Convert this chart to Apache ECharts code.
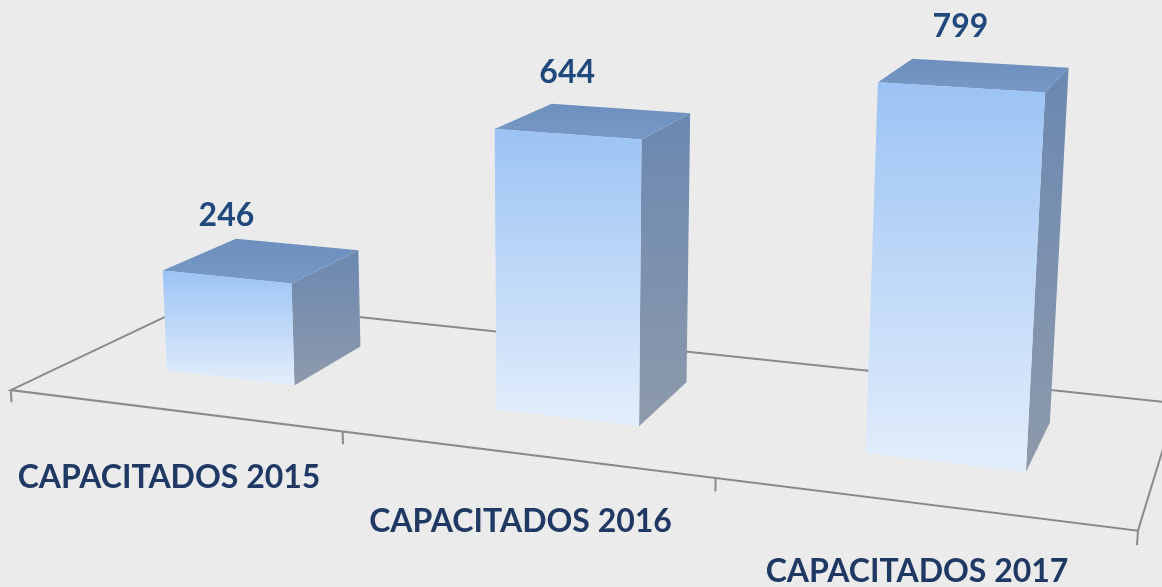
<!DOCTYPE html>
<html>
<head>
<meta charset="utf-8">
<script src="https://cdn.jsdelivr.net/npm/echarts@6/dist/echarts.min.js"></script>
<style>
html, body { margin: 0; padding: 0; background: #ebebeb; }
#main { width: 1162px; height: 587px; }
</style>
</head>
<body>
<div id="main"></div>
<script>
var categories = ['CAPACITADOS 2015', 'CAPACITADOS 2016', 'CAPACITADOS 2017'];
var values = [246, 644, 799];
var valueMax = 1000;

// perspective: screen point of the first bar's front-bottom centre + vanishing points
var cam = {
    x0: 230, y0: 378,
    vh: [-5674, -319],   // along the categories
    vv: [560, 9700],     // verticals
    vd: [1380, -260],    // depth
    kd: 0.00064
};
var gx = 1 / (cam.vh[0] - cam.x0);
var gh = -1 / (cam.vv[1] - cam.y0);
var gz = cam.kd;
var barDepth = 100, floorFront = -75, floorBack = 170;

function project(X, H, Z) {
    var w = 1 + X * gx + H * gh + Z * gz;
    return [
        (cam.x0 + X * cam.vh[0] * gx + H * cam.vv[0] * gh + Z * cam.vd[0] * gz) / w,
        (cam.y0 + X * cam.vh[1] * gx + H * cam.vv[1] * gh + Z * cam.vd[1] * gz) / w
    ];
}

function renderFloor(params, api) {
    var band = api.size([1, 0])[0];
    var left = -band / 2, right = left + band * categories.length;
    var lineStyle = { stroke: '#8a8a8a', lineWidth: 2, fill: null };
    var children = [{
        type: 'polyline',
        shape: { points: [project(left, 0, floorBack), project(left, 0, floorFront),
                          project(right, 0, floorFront), project(right, 0, floorBack)] },
        style: lineStyle
    }, {
        type: 'polyline',
        shape: { points: [project(left, 0, floorBack), project(right, 0, floorBack)] },
        style: lineStyle
    }];
    for (var k = 0; k <= categories.length; k++) {
        var xb = left + k * band;
        var a = project(xb, 0, floorFront), b = project(xb, -12, floorFront);
        children.push({
            type: 'line',
            shape: { x1: a[0], y1: a[1], x2: b[0], y2: b[1] },
            style: { stroke: '#8a8a8a', lineWidth: 2 }
        });
    }
    return { type: 'group', children: children };
}

function renderBar(params, api) {
    var o = api.coord([0, 0]);
    var idx = api.value(0);
    var p = api.coord([idx, api.value(1)]);
    var band = api.size([1, 0])[0];
    var X = p[0] - o[0], H = o[1] - p[1], hw = band * 0.2, d = barDepth;
    var xl = X - hw, xr = X + hw;
    var front = [project(xl, 0, 0), project(xr, 0, 0), project(xr, H, 0), project(xl, H, 0)];
    var side = [project(xr, 0, 0), project(xr, H, 0), project(xr, H, d), project(xr, 0, d)];
    var top = [project(xl, H, 0), project(xr, H, 0), project(xr, H, d), project(xl, H, d)];
    var lbl = project(X, H, 0);
    var cat = project(X, 0, floorFront);
    return {
        type: 'group',
        children: [{
            type: 'polygon',
            shape: { points: side },
            style: { fill: new echarts.graphic.LinearGradient(0, 0, 0, 1, [
                { offset: 0, color: '#6b88b1' }, { offset: 1, color: '#8e9aab' }]) }
        }, {
            type: 'polygon',
            shape: { points: top },
            style: { fill: new echarts.graphic.LinearGradient(0, 1, 0, 0, [
                { offset: 0, color: '#7899c6' }, { offset: 1, color: '#6d8fbd' }]) }
        }, {
            type: 'polygon',
            shape: { points: front },
            style: { fill: new echarts.graphic.LinearGradient(0, 0, 0, 1, [
                { offset: 0, color: '#9cc3f4' }, { offset: 1, color: '#e3eefb' }]) }
        }, {
            type: 'text',
            style: {
                text: String(api.value(1)), x: lbl[0], y: lbl[1] - 61,
                align: 'center', verticalAlign: 'middle',
                fontFamily: 'Lato', fontWeight: 'bold', fontSize: 32, fill: '#1f497d'
            }
        }, {
            type: 'text',
            style: {
                text: categories[idx], x: cat[0] - 3, y: cat[1] + 68,
                align: 'center', verticalAlign: 'middle',
                fontFamily: 'Lato', fontWeight: 'bold', fontSize: 32, fill: '#1f3864'
            }
        }]
    };
}

var myChart = echarts.init(document.getElementById('main'));
var option = {
    backgroundColor: '#ebebeb',
    animation: false,
    grid: { left: 40, top: 100, width: 956.4, height: 406 },
    xAxis: { type: 'category', data: categories, show: false },
    yAxis: { type: 'value', min: 0, max: valueMax, show: false },
    series: [{
        type: 'custom',
        z: 1,
        silent: true,
        renderItem: renderFloor,
        data: [[0, 0]]
    }, {
        type: 'custom',
        z: 2,
        silent: true,
        renderItem: renderBar,
        data: values.map(function(v, i) { return [i, v]; })
    }]
};
myChart.setOption(option);
</script>
</body>
</html>
